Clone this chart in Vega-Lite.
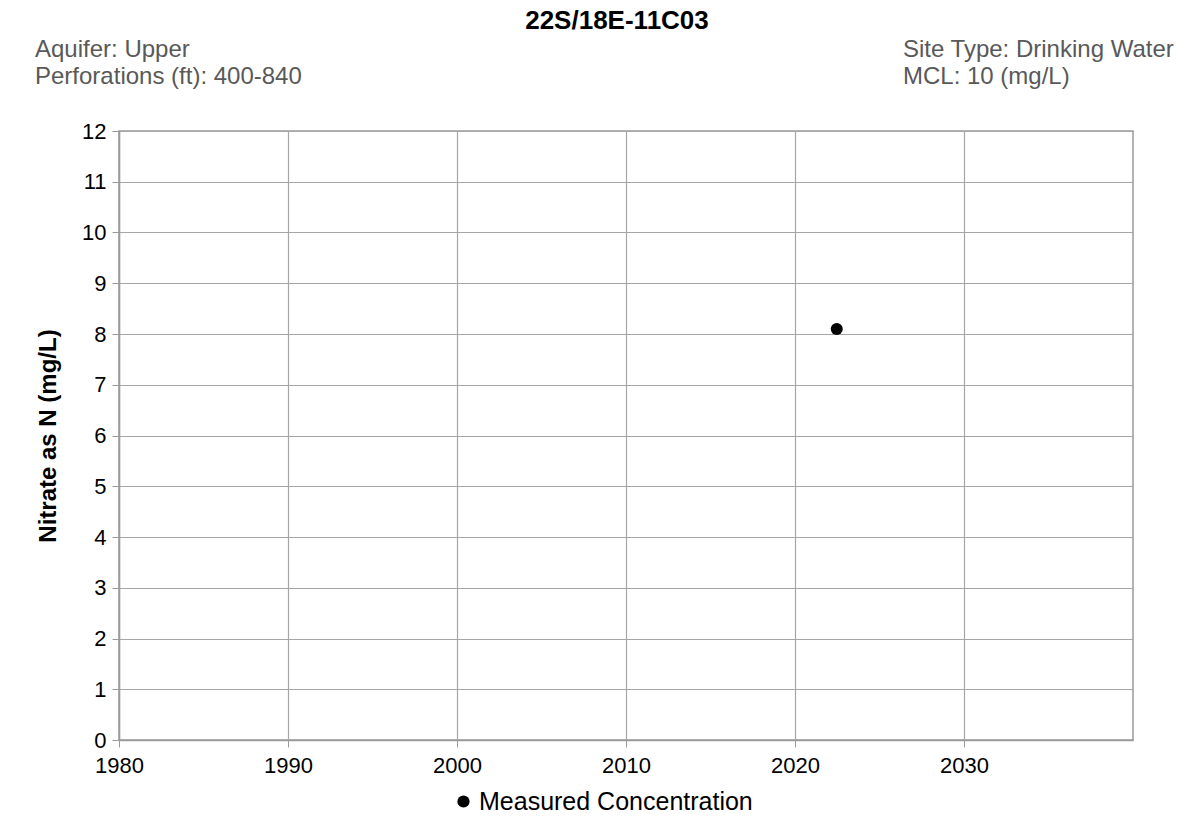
{
  "$schema": "https://vega.github.io/schema/vega-lite/v6.json",
  "width": 1014,
  "height": 609,
  "autosize": {"type": "none"},
  "padding": {"left": 119, "top": 131, "right": 66, "bottom": 100},
  "background": "white",
  "title": {
    "text": "22S/18E-11C03",
    "font": "Liberation Sans",
    "fontSize": 26,
    "fontWeight": "bold",
    "color": "black",
    "anchor": "middle",
    "frame": "group",
    "offset": 4,
    "dx": -9
  },
  "config": {
    "font": "Liberation Sans",
    "view": {"stroke": "#9a9a9a", "strokeWidth": 1.5},
    "axis": {
      "labelFont": "Liberation Sans",
      "labelFontSize": 22,
      "labelColor": "black",
      "labelFlush": false,
      "gridColor": "#a6a6a6",
      "gridWidth": 1.2,
      "gridOpacity": 1,
      "domainColor": "#9a9a9a",
      "domainWidth": 1.5,
      "tickColor": "#9a9a9a",
      "tickSize": 7,
      "titleFont": "Liberation Sans",
      "titleColor": "black"
    }
  },
  "layer": [
    {
      "data": {"values": [
        {"year": 2022.47, "nitrate": 8.1, "series": "Measured Concentration"}
      ]},
      "mark": {"type": "point", "filled": true, "shape": "circle", "size": 145, "opacity": 1},
      "encoding": {
        "x": {
          "field": "year", "type": "quantitative",
          "scale": {"domain": [1980, 2040], "nice": false, "zero": false},
          "axis": {"values": [1980, 1990, 2000, 2010, 2020, 2030], "format": "d", "title": null, "labelPadding": 8}
        },
        "y": {
          "field": "nitrate", "type": "quantitative",
          "scale": {"domain": [0, 12], "nice": false},
          "axis": {"values": [0,1,2,3,4,5,6,7,8,9,10,11,12], "title": "Nitrate as N (mg/L)", "titleFontSize": 24, "titleFontWeight": "bold", "titlePadding": 21, "labelPadding": 6}
        },
        "color": {
          "field": "series", "type": "nominal",
          "scale": {"range": ["black"]},
          "legend": {"title": null, "orient": "none", "legendX": 332, "legendY": 658, "direction": "horizontal", "labelFontSize": 25, "labelColor": "black", "labelFont": "Liberation Sans", "labelLimit": 0, "symbolType": "circle", "symbolSize": 150, "symbolStrokeWidth": 0, "labelOffset": 3}
        }
      }
    },
    {
      "data": {"values": [
        {"label": ["Aquifer: Upper", "Perforations (ft): 400-840"], "year": 1975.03, "nitrate": 13.45, "side": "left"},
        {"label": ["Site Type: Drinking Water", "MCL: 10 (mg/L)"], "year": 2026.39, "nitrate": 13.45, "side": "right"}
      ]},
      "mark": {"type": "text", "align": "left", "baseline": "alphabetic", "fontSize": 24, "color": "#595959", "font": "Liberation Sans", "lineHeight": 27},
      "encoding": {
        "x": {"field": "year", "type": "quantitative"},
        "y": {"field": "nitrate", "type": "quantitative"},
        "text": {"field": "label"}
      }
    }
  ]
}
